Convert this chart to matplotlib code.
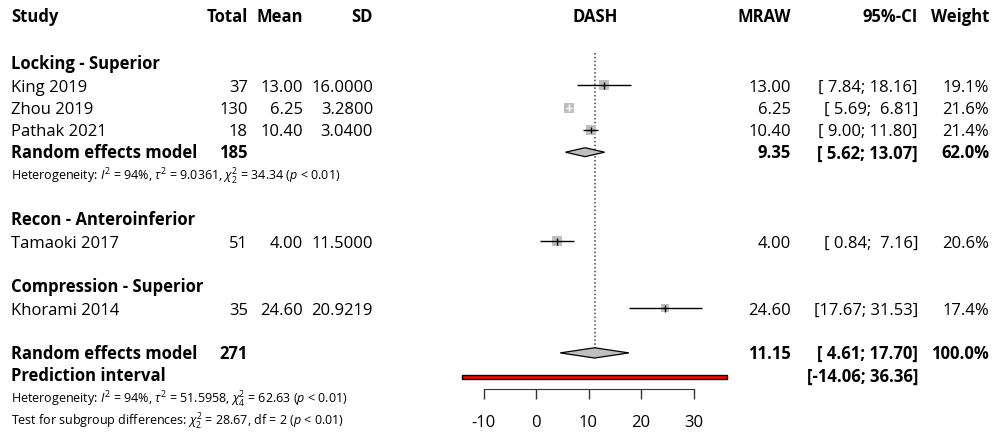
import numpy as np
from matplotlib import pyplot as plt

plt.rcParams['font.family'] = ['Open Sans', 'DejaVu Sans']
plt.rcParams['mathtext.fontset'] = 'custom'
plt.rcParams['mathtext.rm'] = 'Open Sans'
plt.rcParams['mathtext.it'] = 'Open Sans:italic'
plt.rcParams['mathtext.bf'] = 'Open Sans:bold'

# study level data
studies = ["King 2019", "Zhou 2019", "Pathak 2021", "Tamaoki 2017", "Khorami 2014"]
totals = [37, 130, 18, 51, 35]
means = [13.00, 6.25, 10.40, 4.00, 24.60]
sds = [16.0000, 3.2800, 3.0400, 11.5000, 20.9219]
lower = [7.84, 5.69, 9.00, 0.84, 17.67]
upper = [18.16, 6.81, 11.80, 7.16, 31.53]
weights = [19.1, 21.6, 21.4, 20.6, 17.4]
study_rows = [2, 3, 4, 9, 12]

# subgroups
subgroups = ["Locking - Superior", "Recon - Anteroinferior", "Compression - Superior"]
subgroup_rows = [1, 8, 11]

# pooled estimates
sub_total, sub_est, sub_lo, sub_hi, sub_w = 185, 9.35, 5.62, 13.07, 62.0
all_total, all_est, all_lo, all_hi = 271, 11.15, 4.61, 17.70
pi_lo, pi_hi = -14.06, 36.36
het_sub = r"Heterogeneity: $I^2$ = 94%, $\tau^2$ = 9.0361, $\chi^2_2$ = 34.34 ($p$ < 0.01)"
het_all = r"Heterogeneity: $I^2$ = 94%, $\tau^2$ = 51.5958, $\chi^2_4$ = 62.63 ($p$ < 0.01)"
test_sub = r"Test for subgroup differences: $\chi^2_2$ = 28.67, df = 2 ($p$ < 0.01)"
xticks = [-10, 0, 10, 20, 30]

W, H = 993, 432
PX_PER_UNIT = 5.25
X0_PX = 536
ROW0_PX, ROW_PX = 63, 22.3
BASE = 0.28  # baseline offset below row centre, in rows


def row_of(px):
    return 1 + (px - ROW0_PX) / ROW_PX


ylim = (row_of(H), row_of(0))

fig = plt.figure(figsize=(W / 100, H / 100), dpi=100)

# text layer in pixel x / row y
tx = fig.add_axes([0, 0, 1, 1])
tx.set_xlim(0, W)
tx.set_ylim(*ylim)
tx.axis('off')

# forest layer in DASH units
vmin, vmax = -16, 40
left_px = X0_PX + vmin * PX_PER_UNIT
ax = fig.add_axes([left_px / W, 0, (vmax - vmin) * PX_PER_UNIT / W, 1])
ax.set_xlim(vmin, vmax)
ax.set_ylim(*ylim)
ax.patch.set_visible(False)

fs, fs_small = 12, 9
col_study, col_total, col_mean, col_sd = 11, 248, 303, 373
col_dash, col_mraw, col_ci, col_w = 595, 791, 918, 989


def put(x, r, s, ha='left', bold=False, size=fs):
    tx.text(x, r + BASE, s, fontsize=size, va='baseline', ha=ha,
            fontweight='bold' if bold else 'normal')


hdr = row_of(16)
put(col_study, hdr, "Study", bold=True)
put(col_total, hdr, "Total", 'right', True)
put(col_mean, hdr, "Mean", 'right', True)
put(col_sd, hdr, "SD", 'right', True)
put(col_dash, hdr, "DASH", 'center', True)
put(col_mraw, hdr, "MRAW", 'right', True)
put(col_ci, hdr, "95%-CI", 'right', True)
put(col_w, hdr, "Weight", 'right', True)

for name, r in zip(subgroups, subgroup_rows):
    put(col_study, r, name, bold=True)


def ci_str(lo, hi):
    return "[{:5.2f}; {:5.2f}]".format(lo, hi)


for i, r in enumerate(study_rows):
    put(col_study, r, studies[i])
    put(col_total, r, str(totals[i]), 'right')
    put(col_mean, r, "%.2f" % means[i], 'right')
    put(col_sd, r, "%.4f" % sds[i], 'right')
    put(col_mraw, r, "%.2f" % means[i], 'right')
    put(col_ci, r, ci_str(lower[i], upper[i]), 'right')
    put(col_w, r, "%.1f%%" % weights[i], 'right')

    # square sized by weight, CI line, estimate tick
    side_px = 9 * np.sqrt(weights[i] / 20)
    inside = (upper[i] - lower[i]) * PX_PER_UNIT < side_px
    lc = 'white' if inside else 'black'
    ax.scatter(means[i], r, marker='s', s=(side_px * 0.74) ** 2, color='#bfbfbf', zorder=2, linewidths=0)
    ax.hlines(r, lower[i], upper[i], color=lc, lw=1, zorder=3)
    ax.vlines(means[i], r - 0.15, r + 0.15, color=lc, lw=1, zorder=3)

# subgroup pooled row
r = 5
put(col_study, r, "Random effects model", bold=True)
put(col_total, r, str(sub_total), 'right', True)
put(col_mraw, r, "%.2f" % sub_est, 'right', True)
put(col_ci, r, ci_str(sub_lo, sub_hi), 'right', True)
put(col_w, r, "%.1f%%" % sub_w, 'right', True)
ax.fill([sub_lo, sub_est, sub_hi, sub_est], [r, r - 0.2, r, r + 0.2],
        facecolor='#bfbfbf', edgecolor='black', lw=0.9, zorder=3)
put(col_study, 6, het_sub, size=fs_small)

# overall
r = 14
put(col_study, r, "Random effects model", bold=True)
put(col_total, r, str(all_total), 'right', True)
put(col_mraw, r, "%.2f" % all_est, 'right', True)
put(col_ci, r, ci_str(all_lo, all_hi), 'right', True)
put(col_w, r, "100.0%", 'right', True)
ax.fill([all_lo, all_est, all_hi, all_est], [r, r - 0.23, r, r + 0.23],
        facecolor='#bfbfbf', edgecolor='black', lw=0.9, zorder=3)

r = 15
put(col_study, r, "Prediction interval", bold=True)
put(col_ci, r, ci_str(pi_lo, pi_hi), 'right', True)
ax.barh(row_of(377), pi_hi - pi_lo, left=pi_lo, height=0.2,
        color='red', edgecolor='black', lw=1, zorder=3)

put(col_study, 16, het_all, size=fs_small)
put(col_study, 17, test_sub, size=fs_small)

# reference line at overall estimate
ax.vlines(all_est, row_of(53), row_of(348), color='#444444', lw=1.1, linestyles=(0, (1, 1.5)), zorder=1)

# x axis
for s in ['top', 'right', 'left']:
    ax.spines[s].set_visible(False)
ax.spines['bottom'].set_position(('data', row_of(389)))
ax.spines['bottom'].set_bounds(xticks[0], xticks[-1])
ax.spines['bottom'].set_color('#333333')
ax.set_yticks([])
ax.set_xticks(xticks)
ax.set_xticklabels([str(t) for t in xticks])
ax.tick_params(axis='x', direction='out', length=7.5, width=1, color='#333333',
               labelsize=fs, pad=11)

fig.savefig("out.png", dpi=100)
